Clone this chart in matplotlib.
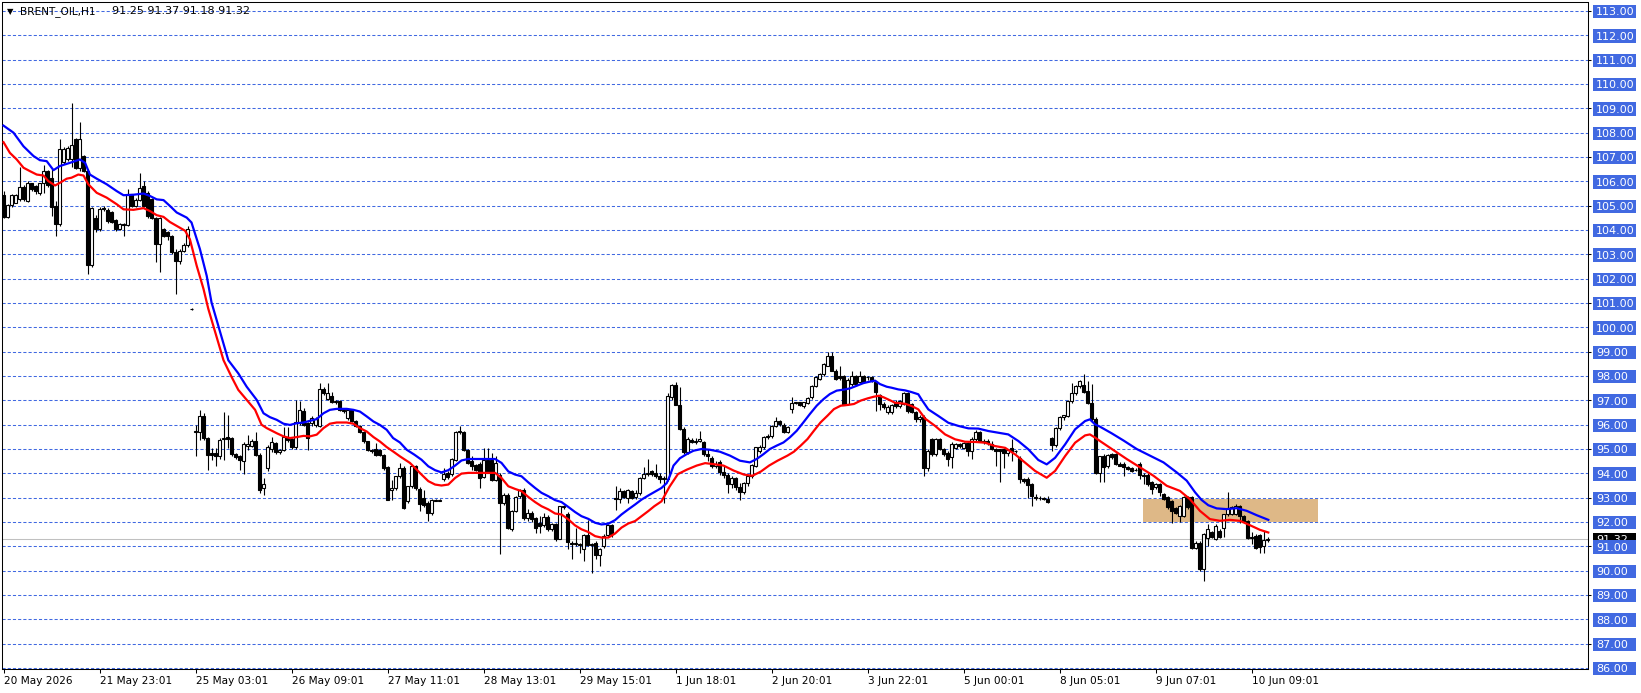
import numpy as np
import matplotlib
matplotlib.use("Agg")
import matplotlib.pyplot as plt
import matplotlib.transforms as mtransforms
from matplotlib.patches import Rectangle

# ---------------- data ----------------
symbol = "BRENT_OIL"
timeframe = "H1"

opens = [
    105.43, 104.54, 105.02, 105.13, 105.26, 105.78, 105.19, 105.92, 105.81, 105.53,
    105.92, 106.41, 106.14, 104.99, 104.24, 106.79, 106.90, 106.90, 107.72, 106.56,
    107.04, 106.42, 102.56, 104.51, 104.03, 104.92, 104.83, 104.72, 104.40, 104.03,
    104.25, 104.20, 105.47, 104.99, 105.23, 105.81, 105.53, 105.26, 104.51, 103.42,
    104.03, 103.90, 103.76, 103.11, 102.74, 103.15, 103.38, 100.75, 95.69, 95.72,
    96.34, 95.45, 94.83, 94.83, 94.70, 95.41, 95.49, 95.45, 94.79, 94.70,
    94.49, 95.14, 95.14, 95.34, 94.77, 93.40, 94.20, 95.00, 95.24, 94.86,
    94.94, 95.49, 95.41, 95.08, 96.06, 96.57, 96.06, 96.06, 95.99, 95.95,
    97.45, 97.05, 97.18, 96.95, 96.99, 96.61, 96.27, 96.61, 96.17, 95.95,
    95.72, 95.31, 94.97, 95.00, 94.94, 94.74, 94.26, 93.33, 93.40, 93.88,
    94.22, 92.86, 93.47, 94.29, 93.36, 93.00, 92.79, 92.38, 92.92, 92.88,
    93.78, 94.02, 93.98, 94.56, 95.72, 95.68, 94.97, 94.49, 94.36, 94.40,
    93.85, 94.56, 94.56, 93.74, 93.95, 92.79, 93.13, 91.72, 92.45, 93.06,
    93.33, 92.17, 92.38, 92.17, 91.97, 91.86, 92.22, 91.72, 91.90, 91.32,
    92.61, 92.31, 91.15, 91.08, 91.08, 90.88, 91.45, 91.08, 91.15, 90.63,
    91.01, 91.45, 91.86, 92.99, 92.95, 93.27, 93.00, 93.27, 93.03, 93.20,
    93.81, 93.98, 94.08, 94.00, 93.90, 93.75, 93.77, 97.12, 97.63, 96.81,
    95.82, 94.86, 95.38, 95.30, 95.35, 95.27, 94.80, 94.62, 94.29, 94.45,
    94.07, 93.95, 93.55, 93.80, 93.45, 93.25, 93.60, 93.90, 94.32, 94.93,
    95.07, 95.52, 95.52, 95.96, 96.16, 95.99, 95.71, 96.64, 96.89, 96.92,
    96.78, 96.89, 97.12, 97.60, 97.88, 98.08, 98.43, 98.84, 98.22, 97.99,
    97.99, 96.85, 97.67, 98.01, 97.74, 97.99, 97.95, 97.95, 97.74, 97.20,
    96.85, 96.52, 96.52, 96.90, 96.77, 96.84, 97.32, 96.84, 96.52, 96.22,
    96.33, 94.23, 95.40, 94.78, 95.40, 95.01, 94.82, 94.68, 95.05, 95.19,
    95.05, 95.23, 94.92, 95.42, 95.70, 95.33, 95.33, 95.19, 95.01, 94.99,
    94.99, 94.85, 95.05, 94.92, 94.64, 93.75, 93.78, 93.55, 93.04, 93.00,
    92.98, 92.96, 95.47, 95.15, 95.88, 96.33, 96.36, 96.97, 97.29, 97.59,
    97.62, 97.38, 96.90, 96.22, 94.01, 94.73, 94.29, 94.80, 94.80, 94.39,
    94.39, 94.25, 94.21, 94.15, 94.39, 93.93, 93.93, 93.63, 93.42, 93.56,
    93.15, 93.01, 92.87, 92.56, 92.25, 92.25, 93.01, 93.01, 90.95, 91.15,
    90.05, 91.36, 91.57, 91.29, 91.63, 91.77, 92.32, 92.32, 92.32, 92.64,
    92.25, 92.05, 91.40, 91.43, 91.46, 91.02, 91.25,
]
highs = [
    105.60, 105.05, 105.50, 105.50, 106.60, 105.85, 106.00, 105.95, 105.85, 105.95,
    106.68, 106.45, 106.49, 105.20, 107.72, 107.40, 107.45, 109.22, 107.80, 108.45,
    107.10, 106.50, 104.95, 104.60, 104.95, 104.97, 104.90, 104.80, 104.45, 104.30,
    104.30, 105.67, 105.50, 105.30, 106.35, 106.00, 105.60, 105.30, 104.55, 104.55,
    104.10, 103.95, 103.80, 103.20, 103.20, 103.45, 104.17, 100.80, 95.99, 96.61,
    96.47, 95.50, 95.04, 95.04, 95.45, 96.54, 96.40, 95.50, 94.85, 94.75,
    95.30, 95.59, 95.40, 95.72, 94.85, 93.81, 95.15, 95.50, 95.30, 95.00,
    95.90, 95.90, 95.45, 97.02, 96.99, 96.70, 96.10, 96.35, 96.30, 97.70,
    97.55, 97.70, 97.36, 97.00, 97.02, 96.65, 96.65, 96.65, 96.20, 96.00,
    95.75, 95.35, 95.00, 95.24, 95.00, 94.80, 94.30, 93.74, 93.90, 94.43,
    94.30, 93.50, 94.36, 94.35, 93.45, 93.33, 92.85, 92.95, 92.95, 92.95,
    94.22, 94.10, 94.65, 95.75, 95.93, 95.75, 95.00, 94.70, 94.40, 94.45,
    95.04, 95.04, 94.83, 94.70, 94.00, 93.20, 93.20, 92.50, 93.05, 93.35,
    93.40, 92.52, 92.45, 92.20, 92.24, 92.38, 92.30, 91.95, 91.95, 92.65,
    92.70, 92.40, 91.20, 91.77, 91.15, 91.50, 92.10, 91.15, 91.20, 90.95,
    91.50, 91.90, 91.90, 93.47, 93.40, 93.30, 93.35, 93.30, 93.30, 93.85,
    94.25, 94.60, 94.15, 94.40, 94.00, 93.90, 97.30, 97.67, 97.75, 97.53,
    95.90, 95.50, 95.45, 95.45, 95.75, 95.35, 95.00, 94.70, 94.50, 94.55,
    94.30, 94.00, 93.90, 93.85, 93.60, 93.65, 93.95, 94.40, 95.10, 95.15,
    95.55, 95.60, 96.00, 96.30, 96.20, 96.05, 95.95, 97.12, 96.95, 96.95,
    96.95, 97.12, 97.65, 98.00, 98.12, 98.55, 99.00, 99.00, 98.30, 98.43,
    98.05, 97.90, 98.22, 98.05, 98.22, 98.05, 98.00, 98.00, 97.80, 97.25,
    96.95, 96.80, 96.85, 97.00, 97.00, 97.35, 97.35, 96.90, 96.55, 96.40,
    96.40, 95.00, 95.45, 95.45, 95.45, 95.05, 94.90, 95.30, 95.25, 95.25,
    95.30, 95.30, 95.50, 95.80, 95.75, 95.40, 95.40, 95.33, 95.05, 95.00,
    95.05, 94.95, 95.42, 94.95, 94.70, 93.80, 93.85, 93.60, 93.15, 93.05,
    93.02, 93.05, 95.50, 95.90, 96.35, 96.40, 97.00, 97.73, 97.65, 97.85,
    98.07, 97.79, 97.66, 96.30, 94.73, 94.80, 94.80, 94.85, 94.85, 94.45,
    94.45, 94.30, 94.25, 94.20, 94.45, 94.00, 94.00, 93.70, 93.60, 93.60,
    93.20, 93.05, 92.90, 92.60, 92.70, 93.05, 93.05, 93.05, 91.20, 91.20,
    91.55, 91.91, 91.65, 91.90, 91.70, 92.35, 93.22, 92.65, 92.73, 92.70,
    92.30, 92.10, 91.57, 91.50, 91.50, 91.63, 91.37,
]
lows = [
    104.50, 104.50, 104.95, 105.10, 105.19, 105.20, 105.15, 105.60, 105.50, 105.45,
    105.53, 105.75, 104.58, 103.76, 104.17, 106.70, 106.85, 106.60, 106.50, 106.42,
    106.40, 102.19, 102.50, 103.90, 103.95, 104.80, 104.30, 104.30, 103.95, 104.00,
    103.76, 104.15, 104.95, 104.95, 105.20, 104.95, 104.50, 104.45, 102.67, 102.26,
    103.70, 103.60, 103.00, 101.37, 102.60, 103.10, 103.30, 100.70, 94.70, 95.38,
    95.38, 94.15, 94.56, 94.30, 94.60, 94.56, 95.04, 94.70, 94.60, 94.15,
    93.99, 94.97, 95.10, 94.70, 93.20, 93.13, 94.10, 94.86, 94.80, 94.80,
    94.90, 95.30, 95.00, 95.00, 96.00, 95.95, 94.97, 95.95, 95.90, 95.90,
    97.20, 97.00, 96.90, 96.85, 96.55, 96.50, 96.20, 96.10, 95.90, 95.65,
    95.25, 94.90, 94.85, 94.70, 94.70, 94.15, 92.90, 92.90, 93.30, 93.80,
    92.52, 92.80, 93.40, 93.30, 92.45, 92.60, 92.04, 92.30, 92.85, 92.85,
    93.70, 93.78, 93.90, 94.50, 95.60, 94.90, 94.40, 94.15, 94.10, 93.40,
    93.80, 94.00, 93.70, 93.70, 90.67, 92.70, 91.70, 91.65, 92.40, 93.00,
    92.10, 92.04, 92.00, 91.56, 91.56, 91.80, 91.65, 91.65, 91.22, 91.30,
    92.55, 90.91, 90.50, 91.00, 90.74, 90.40, 91.00, 89.92, 90.50, 90.20,
    90.95, 91.40, 91.40, 92.50, 92.80, 93.00, 92.80, 92.95, 92.95, 93.10,
    93.75, 93.90, 93.90, 93.80, 93.60, 92.80, 93.70, 97.00, 96.80, 95.80,
    94.80, 94.80, 95.25, 95.20, 95.30, 94.70, 94.50, 94.20, 94.20, 93.95,
    93.80, 93.20, 93.40, 93.30, 92.90, 93.15, 93.50, 93.80, 94.25, 94.85,
    95.00, 95.40, 95.45, 95.90, 95.95, 95.65, 95.65, 96.48, 96.85, 96.75,
    96.70, 96.85, 97.05, 97.55, 97.85, 98.00, 98.40, 98.20, 97.85, 97.85,
    96.80, 96.80, 97.60, 97.60, 97.70, 97.70, 97.85, 97.75, 96.58, 96.60,
    96.65, 96.45, 96.45, 96.70, 96.70, 96.80, 96.50, 96.50, 96.10, 96.10,
    93.90, 94.10, 94.70, 94.70, 94.95, 94.70, 94.30, 94.20, 95.00, 95.05,
    95.00, 94.70, 94.60, 95.35, 95.30, 95.20, 95.15, 94.95, 94.30, 93.64,
    94.20, 94.70, 94.50, 94.85, 93.60, 93.60, 93.00, 92.66, 92.90, 92.90,
    92.92, 92.80, 94.90, 95.10, 95.80, 96.20, 96.30, 96.90, 97.20, 97.50,
    97.30, 96.85, 96.15, 93.96, 93.63, 93.63, 94.20, 94.60, 94.35, 94.30,
    93.90, 94.15, 94.05, 94.10, 93.77, 93.56, 93.50, 93.15, 93.35, 93.08,
    92.90, 92.55, 91.98, 92.35, 92.01, 92.20, 92.55, 90.90, 90.90, 89.98,
    89.57, 91.02, 91.35, 91.25, 91.35, 91.40, 92.25, 92.30, 92.28, 91.98,
    92.00, 91.30, 91.08, 90.88, 90.74, 90.74, 91.18,
]
closes = [
    104.54, 105.02, 105.45, 105.45, 105.78, 105.26, 105.94, 105.70, 105.59, 105.92,
    106.41, 105.83, 104.96, 104.24, 107.31, 107.34, 107.38, 107.51, 106.56, 107.72,
    106.42, 102.56, 104.92, 104.03, 104.88, 104.85, 104.38, 104.35, 104.03, 104.24,
    104.20, 105.47, 104.99, 105.23, 105.74, 104.99, 104.58, 104.51, 103.42, 104.51,
    103.76, 103.76, 103.08, 102.74, 103.15, 103.38, 104.03, 100.75, 95.76, 96.34,
    95.45, 94.74, 94.74, 94.70, 95.38, 95.45, 95.41, 94.79, 94.66, 94.53,
    95.22, 95.22, 95.34, 94.77, 93.31, 93.58, 95.08, 95.27, 94.86, 94.94,
    95.49, 95.36, 95.08, 96.09, 96.61, 95.99, 95.45, 96.27, 96.23, 97.45,
    97.29, 97.32, 96.95, 96.99, 96.61, 96.58, 96.61, 96.17, 95.95, 95.72,
    95.31, 94.97, 94.90, 94.77, 94.74, 94.22, 92.92, 93.40, 93.88, 94.22,
    92.58, 93.47, 94.29, 93.40, 92.76, 92.72, 92.38, 92.92, 92.88, 92.92,
    93.98, 93.85, 94.59, 95.72, 95.76, 94.97, 94.43, 94.32, 94.15, 93.81,
    94.56, 94.02, 93.74, 94.43, 92.79, 93.13, 91.77, 92.45, 93.03, 93.33,
    92.17, 92.38, 92.11, 91.77, 91.83, 92.22, 91.72, 91.90, 91.32, 92.65,
    92.65, 91.18, 91.11, 91.15, 91.04, 91.45, 91.04, 91.04, 90.63, 90.88,
    91.42, 91.86, 91.49, 92.95, 93.27, 93.04, 93.31, 92.99, 93.20, 93.81,
    93.98, 94.02, 93.97, 93.90, 93.75, 93.80, 97.16, 97.63, 96.81, 95.82,
    94.86, 95.41, 95.30, 95.35, 95.40, 94.80, 94.73, 94.29, 94.40, 94.07,
    93.95, 93.55, 93.80, 93.45, 93.25, 93.60, 93.90, 94.34, 95.07, 95.07,
    95.48, 95.48, 95.96, 96.16, 96.03, 95.71, 95.89, 96.89, 96.92, 96.81,
    96.92, 97.08, 97.60, 97.95, 98.08, 98.49, 98.84, 98.22, 97.88, 97.90,
    96.81, 97.85, 98.01, 97.67, 98.01, 97.74, 97.95, 97.81, 97.33, 96.85,
    96.72, 96.73, 96.79, 96.77, 96.97, 97.32, 96.56, 96.52, 96.25, 96.33,
    94.23, 94.92, 94.78, 95.40, 94.99, 94.78, 94.60, 95.19, 95.19, 95.12,
    95.23, 94.92, 95.42, 95.70, 95.33, 95.30, 95.26, 95.01, 94.92, 94.92,
    94.85, 94.95, 94.92, 94.90, 93.75, 93.70, 93.51, 93.07, 93.00, 92.98,
    92.96, 92.82, 95.15, 95.88, 96.33, 96.39, 96.97, 97.32, 97.59, 97.79,
    97.35, 96.90, 96.22, 94.01, 94.73, 94.25, 94.76, 94.66, 94.39, 94.32,
    94.25, 94.18, 94.11, 94.12, 93.93, 93.88, 93.56, 93.35, 93.56, 93.22,
    92.94, 92.60, 92.46, 92.39, 92.67, 93.01, 92.60, 90.95, 91.15, 90.05,
    91.50, 91.70, 91.40, 91.84, 91.40, 92.32, 92.56, 92.60, 92.67, 92.25,
    92.05, 91.36, 91.36, 90.95, 90.99, 91.26, 91.32,
]

# slow moving average (blue) as (bar, value)
blue_ma = [
    (0, 108.29), (2.5, 108.0), (5, 107.44), (7.5, 107.04), (9.1, 106.87), (10.8, 106.83),
    (12.5, 106.46), (14.1, 106.63), (16.6, 106.76), (19.1, 106.90), (20.4, 106.76),
    (21.6, 106.28), (23.3, 106.11), (25.8, 105.88), (28.3, 105.60), (30, 105.43),
    (32.5, 105.45), (35, 105.50), (36.6, 105.40), (38.3, 105.26), (40, 105.23),
    (41.6, 104.99), (43.3, 104.72), (45.8, 104.51), (47, 104.31), (49.1, 103.22),
    (50.8, 102.12), (52, 101.03), (56.2, 98.65), (58.7, 98.11), (60.8, 97.56),
    (63.3, 97.02), (65, 96.47), (66.6, 96.31), (68.3, 96.20), (70, 96.04), (71.6, 95.99),
    (73.3, 96.06), (75, 96.09), (76.6, 96.16), (78.3, 96.23), (80, 96.47), (81.6, 96.61),
    (83.3, 96.65), (85.8, 96.65), (87.5, 96.61), (89.1, 96.54), (90.8, 96.34),
    (92.5, 96.13), (94.1, 95.99), (95.8, 95.79), (97.4, 95.45), (99.1, 95.27),
    (100.8, 94.97), (102.7, 94.77), (104.5, 94.56), (106.2, 94.29), (107.9, 94.13),
    (109.5, 94.04), (111.2, 94.13), (112.9, 94.32), (114.5, 94.53), (116.2, 94.59),
    (119.5, 94.59), (122.9, 94.59), (124.5, 94.43), (126.2, 94.08), (127.9, 93.95),
    (129.5, 93.88), (131.2, 93.63), (132.9, 93.40), (134.5, 93.20), (136.2, 93.06),
    (137.9, 92.90), (139.5, 92.82), (141.2, 92.62), (142.9, 92.41), (144.5, 92.24),
    (146.2, 92.13), (147.9, 91.97), (149.5, 91.90), (151.2, 91.93), (152.9, 92.08),
    (154.5, 92.31), (156.2, 92.52), (157.9, 92.72), (159.5, 92.92), (161.2, 93.09),
    (162.7, 93.23), (164.5, 93.40), (165.8, 93.60), (166.6, 93.90), (167.5, 94.32),
    (169.1, 94.62), (170.8, 94.79), (172.5, 94.93), (174.5, 95.00), (176.6, 94.97),
    (179.1, 94.89), (181.6, 94.73), (184.1, 94.52), (186.6, 94.45), (188.3, 94.59),
    (190, 94.79), (191.6, 95.00), (193.3, 95.14), (195, 95.27), (196.6, 95.48),
    (198.3, 95.75), (200, 96.10), (201.6, 96.44), (203.3, 96.78), (205, 97.05),
    (206.6, 97.26), (208.3, 97.40), (210, 97.44), (211.6, 97.49), (213.3, 97.60),
    (215, 97.71), (216.6, 97.77), (217.9, 97.81), (219.1, 97.67), (220.8, 97.56),
    (222, 97.52), (223.7, 97.45), (225.4, 97.41), (227, 97.34), (228.7, 97.25),
    (229.5, 97.04), (231.2, 96.63), (233.7, 96.36), (236.2, 96.08), (238.7, 95.95),
    (241.2, 95.85), (243.7, 95.84), (246.2, 95.74), (248.7, 95.67), (251.2, 95.60),
    (253.7, 95.33), (256.2, 94.99), (258.7, 94.55), (260.8, 94.37), (262.9, 94.64),
    (265.4, 95.19), (267.9, 95.81), (270.4, 96.15), (271.6, 96.22), (272.9, 96.01),
    (274.1, 95.92), (277, 95.65), (280, 95.35), (283.3, 95.00), (286.6, 94.73),
    (290, 94.45), (293.3, 94.04), (295.8, 93.70), (297.9, 93.22), (299.5, 92.91),
    (301.2, 92.69), (303.3, 92.56), (305.8, 92.53), (308.3, 92.57), (310.8, 92.46),
    (313.3, 92.28), (316.2, 92.09),
]

# fast moving average (red) as (bar, value)
red_ma = [
    (0, 107.61), (1.6, 107.17), (3.3, 106.90), (5, 106.56), (6.6, 106.42), (8.3, 106.28),
    (10, 106.24), (11.2, 106.01), (12.9, 105.83), (14.1, 105.94), (15.8, 106.11),
    (17, 106.15), (18.7, 106.28), (20, 106.24), (21.2, 105.88), (23.3, 105.53),
    (25.8, 105.33), (28.3, 105.06), (30, 104.85), (32.5, 104.83), (35, 104.90),
    (36.6, 104.78), (38.3, 104.61), (40, 104.54), (41.6, 104.33), (43.3, 104.17),
    (45.4, 103.97), (46.6, 103.62), (48.3, 102.53), (50, 101.58), (51.2, 100.76),
    (55, 98.65), (57, 97.97), (58.7, 97.43), (60.8, 97.02), (62.9, 96.61), (64.5, 96.00),
    (65.8, 95.86), (68.3, 95.65), (70, 95.52), (71.6, 95.45), (73.3, 95.49), (75, 95.54),
    (76.6, 95.52), (78.3, 95.59), (80, 95.86), (81.6, 96.04), (83.3, 96.09), (85.8, 96.09),
    (87.5, 96.04), (89.1, 95.86), (90.8, 95.72), (92.5, 95.49), (94.1, 95.31),
    (95.8, 95.08), (97.4, 94.90), (99.1, 94.70), (101.6, 94.43), (102.9, 94.22),
    (104.5, 93.95), (106.2, 93.68), (107.9, 93.54), (109.5, 93.50), (111.2, 93.54),
    (112.9, 93.81), (114.5, 93.99), (116.2, 94.02), (119.5, 94.02), (122.9, 94.02),
    (124.5, 93.81), (126.2, 93.47), (127.9, 93.36), (129.5, 93.27), (131.2, 93.03),
    (132.9, 92.82), (134.5, 92.65), (136.2, 92.52), (137.9, 92.35), (139.5, 92.31),
    (141.2, 92.11), (142.9, 91.86), (144.5, 91.70), (146.2, 91.59), (147.9, 91.42),
    (149.5, 91.36), (151.2, 91.36), (152.9, 91.53), (154.5, 91.77), (156.2, 91.94),
    (157.9, 92.04), (159.5, 92.24), (161.2, 92.45), (162.7, 92.65), (164.5, 92.85),
    (166.5, 93.45), (168.6, 93.97), (170.8, 94.15), (173.3, 94.32), (175.4, 94.42),
    (177.5, 94.38), (180, 94.32), (182.6, 94.11), (185.1, 93.95), (187.2, 93.90),
    (189.3, 94.07), (191.4, 94.32), (193.5, 94.52), (196, 94.73), (197.6, 94.89),
    (199.3, 95.14), (201, 95.41), (202.6, 95.75), (204.3, 96.10), (206, 96.37),
    (207.6, 96.64), (209.3, 96.78), (211, 96.81), (212.6, 96.85), (214.3, 96.99),
    (216, 97.08), (217.6, 97.15), (218.9, 97.19), (220.1, 97.12), (221.8, 96.99),
    (222.9, 96.90), (225.4, 96.86), (227, 96.77), (228.7, 96.63), (230.4, 96.25),
    (232.9, 95.95), (235.4, 95.60), (237.9, 95.40), (240.4, 95.30), (242.9, 95.29),
    (245.4, 95.26), (247.9, 95.12), (250.4, 95.05), (252.9, 94.78), (255.4, 94.44),
    (257.9, 94.10), (260.8, 93.82), (262.9, 94.10), (265.4, 94.71), (267.9, 95.26),
    (270.4, 95.56), (271.6, 95.60), (272.9, 95.47), (274.1, 95.33), (277.1, 95.00),
    (280.8, 94.59), (284.1, 94.25), (287.5, 93.90), (290.8, 93.49), (294.1, 93.28),
    (296.6, 92.94), (299.1, 92.46), (301.6, 92.12), (304.1, 92.05), (306.6, 92.09),
    (309.1, 92.05), (311.6, 91.87), (314.1, 91.68), (316.2, 91.57),
]

# support/resistance zone (bar range, price range)
zone_bars = (284.95, 328.5)
zone_prices = (92.02, 92.96)

price_levels = list(range(86, 114))
tick_bars = [0, 24, 48, 72, 96, 120, 144, 168, 192, 216, 240, 264, 288, 312]
tick_labels = ["20 May 2026", "21 May 23:01", "25 May 03:01", "26 May 09:01",
               "27 May 11:01", "28 May 13:01", "29 May 15:01", "1 Jun 18:01",
               "2 Jun 20:01", "3 Jun 22:01", "5 Jun 00:01", "8 Jun 05:01",
               "9 Jun 07:01", "10 Jun 09:01"]

# ---------------- figure ----------------
W, H = 1641, 693
FS = 7.6
FS_NUM = 8.0
GRID = "#4169E1"
fig = plt.figure(figsize=(W / 100, H / 100), dpi=100, facecolor="white")
LPX, RPX, TPX, BPX = 2.0, 1588.0, 2.5, 669.0
ax = fig.add_axes([LPX / W, 1 - BPX / H, (RPX - LPX) / W, (BPX - TPX) / H])
ax.set_facecolor("white")
ax.set_xlim(-0.375, 396.125)
ax.set_ylim(85.96, 113.35)

# horizontal dashed grid
for p in price_levels:
    ax.axhline(p, color=GRID, lw=0.75, ls=(0, (3, 2)), zorder=1)

# zone rectangle
ax.add_patch(Rectangle((zone_bars[0], zone_prices[0]), zone_bars[1] - zone_bars[0],
                       zone_prices[1] - zone_prices[0], facecolor="#DEB887",
                       edgecolor="none", zorder=1.5))

# last price line
last_price = closes[-1]
ax.axhline(last_price, color="#C0C0C0", lw=0.75, zorder=1.6)

# candles
o = np.array(opens); h = np.array(highs); l = np.array(lows); c = np.array(closes)
x = np.arange(len(o))
ax.vlines(x, l, h, colors="black", lw=0.8, zorder=3)
up = c >= o
bottoms = np.minimum(o, c)
heights = np.abs(c - o)
ax.bar(x[up], heights[up], bottom=bottoms[up], width=0.6, facecolor="white",
       edgecolor="black", linewidth=0.8, zorder=4)
ax.bar(x[~up], heights[~up], bottom=bottoms[~up], width=0.6, facecolor="black",
       edgecolor="black", linewidth=0.8, zorder=4)

# moving averages
bx, by = zip(*blue_ma)
rx, ry = zip(*red_ma)
ax.plot(bx, by, color="#0000FF", lw=1.6, zorder=5, solid_joinstyle="round")
ax.plot(rx, ry, color="#FF0000", lw=1.6, zorder=5, solid_joinstyle="round")

# frame and ticks
for s in ax.spines.values():
    s.set_linewidth(0.75)
    s.set_color("black")
ax.set_xticks(tick_bars)
ax.set_xticklabels([])
ax.tick_params(axis="x", direction="out", length=3, width=0.75, color="black")
ax.yaxis.tick_right()
ax.set_yticks([p for p in price_levels if p % 2 == 1])
ax.set_yticklabels([])
ax.tick_params(axis="y", direction="out", length=2.5, width=0.75, color="black")

# date labels
bt = mtransforms.blended_transform_factory(ax.transData, fig.transFigure)
for b, lab in zip(tick_bars, tick_labels):
    ax.text(b + 0.15, 1 - 681 / H, lab, transform=bt, ha="left", va="center",
            fontsize=FS, color="black", clip_on=False)

# price labels on the right
rt = mtransforms.blended_transform_factory(fig.transFigure, ax.transData)
box_h = 0.55
ax.add_patch(Rectangle((1593 / W, last_price - box_h / 2 - 0.03), 43 / W, box_h,
                       transform=rt, facecolor="black", edgecolor="none",
                       clip_on=False, zorder=10))
ax.text(1596 / W, last_price - 0.05, f"{last_price:.2f}", transform=rt, color="white",
        fontsize=FS_NUM, ha="left", va="center", clip_on=False, zorder=11)
for p in price_levels:
    ax.add_patch(Rectangle((1593 / W, p - box_h / 2 - 0.03), 43 / W, box_h,
                           transform=rt, facecolor=GRID, edgecolor="none",
                           clip_on=False, zorder=12))
    ax.text(1596 / W, p - 0.05, f"{p:.2f}", transform=rt, color="white",
            fontsize=FS_NUM, ha="left", va="center", clip_on=False, zorder=13)

# title
ty = 1 - 11.5 / H
fig.text(7 / W, ty, "\u25BC", fontsize=6.0, ha="left", va="center", color="black")
fig.text(20 / W, ty, f"{symbol},{timeframe}", fontsize=FS, ha="left", va="center",
         color="black")
fig.text(112 / W, ty, f"{opens[-1]:.2f} {highs[-1]:.2f} {lows[-1]:.2f} {closes[-1]:.2f}",
         fontsize=FS_NUM, ha="left", va="center", color="black")

fig.savefig("out.png", dpi=100, facecolor="white")
